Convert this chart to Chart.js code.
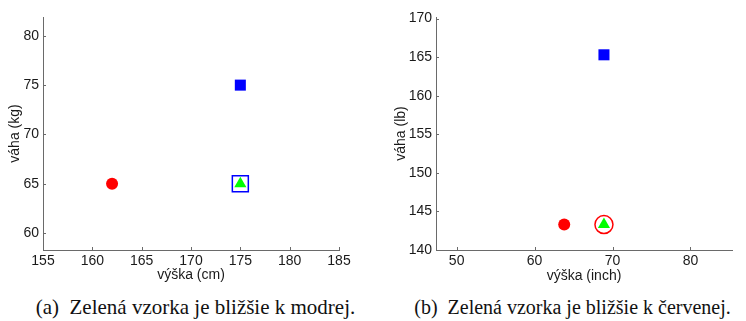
<!DOCTYPE html>
<html>
<head>
<meta charset="utf-8">
<script src="https://cdn.jsdelivr.net/npm/chart.js@4"></script>
<style>
  body { margin: 0; background: #fff; width: 746px; height: 321px; position: relative; overflow: hidden; }
  canvas { position: absolute; top: 0; }
  #chartA { left: 0; }
  #chartB { left: 373px; }
  .caption { position: absolute; top: 297px; font-family: 'Liberation Serif', 'DejaVu Serif', serif; font-size: 18px; line-height: 1; color: #111; white-space: pre; text-align: center; width: 373px; }
</style>
</head>
<body>
<canvas id="chartA" width="373" height="290"></canvas>
<canvas id="chartB" width="373" height="290"></canvas>
<div class="caption" id="capA" style="left: 9px;">(a)  Zelená vzorka je bližšie k modrej.</div>
<div class="caption" id="capB" style="left: 386px;">(b)  Zelená vzorka je bližšie k červenej.</div>
<script>
// hodnoty: červená, modrá, zelená vzorka
const heightCm = [162, 175, 175];
const weightKg = [65, 75, 65];
const heightInch = [63.8, 68.9, 68.9];
const weightLb = [143.3, 165.3, 143.3];

const cmTicks = [155, 160, 165, 170, 175, 180, 185];
const kgTicks = [60, 65, 70, 75, 80];
const inchTicks = [50, 60, 70, 80];
const lbTicks = [140, 145, 150, 155, 160, 165, 170];

const axisColor = '#6a6a6a';
const textColor = '#1a1a1a';

Chart.defaults.font.family = "'Liberation Sans', Arial, sans-serif";
Chart.defaults.font.size = 14;
Chart.defaults.color = textColor;

// MATLAB-style tick marks pointing into the plot
const inwardTicks = {
    id: 'inwardTicks',
    afterDatasetsDraw(chart) {
        const { ctx, chartArea, scales } = chart;
        ctx.save();
        ctx.strokeStyle = axisColor;
        ctx.lineWidth = 1;
        scales.x.ticks.forEach(t => {
            const px = Math.round(scales.x.getPixelForValue(t.value)) + 0.5;
            ctx.beginPath();
            ctx.moveTo(px, chartArea.bottom);
            ctx.lineTo(px, chartArea.bottom - 3);
            ctx.stroke();
        });
        scales.y.ticks.forEach(t => {
            const py = Math.round(scales.y.getPixelForValue(t.value)) + 0.5;
            ctx.beginPath();
            ctx.moveTo(chartArea.left, py);
            ctx.lineTo(chartArea.left + 3, py);
            ctx.stroke();
        });
        ctx.restore();
    }
};

function pts(xs, ys, idx) {
    return idx.map(i => ({ x: xs[i], y: ys[i] }));
}

function axis(title, min, max, tickList, size, titlePad, horizontal) {
    return {
        type: 'linear',
        min: min,
        max: max,
        afterBuildTicks: s => { s.ticks = tickList.map(v => ({ value: v })); },
        afterFit: s => { if (horizontal) s.height = size; else s.width = size; },
        grid: { display: true, drawOnChartArea: false, drawTicks: false },
        border: { display: true, color: axisColor, width: 1 },
        ticks: { padding: horizontal ? 3 : 4, color: textColor },
        title: {
            display: true,
            text: title,
            color: textColor,
            font: { size: 14 },
            padding: horizontal ? { top: 0, bottom: titlePad } : { top: titlePad, bottom: 0 }
        }
    };
}

function makeChart(id, xs, ys, ring, xAxis, yAxis, padRight) {
    return new Chart(document.getElementById(id).getContext('2d'), {
        type: 'scatter',
        data: {
            datasets: [
                { data: pts(xs, ys, [2]), pointStyle: 'triangle', pointRadius: 7, backgroundColor: '#00ff00', borderWidth: 0 },
                { data: pts(xs, ys, [2]), pointStyle: ring.style, pointRadius: ring.radius, backgroundColor: 'rgba(0,0,0,0)', borderColor: ring.color, borderWidth: 1.5 },
                { data: pts(xs, ys, [0]), pointStyle: 'circle', pointRadius: 6, backgroundColor: '#ff0000', borderWidth: 0 },
                { data: pts(xs, ys, [1]), pointStyle: 'rect', pointRadius: 7.8, backgroundColor: '#0000ff', borderWidth: 0 }
            ]
        },
        options: {
            responsive: false,
            animation: false,
            events: [],
            layout: { padding: { top: 17, right: padRight, left: 0, bottom: 0 } },
            plugins: { legend: { display: false }, tooltip: { enabled: false } },
            scales: { x: xAxis, y: yAxis }
        },
        plugins: [inwardTicks]
    });
}

makeChart('chartA', heightCm, weightKg,
    { style: 'rect', radius: 11.3, color: '#0000ff' },
    axis('výška (cm)', 155, 185, cmTicks, 40, 6.6, true),
    axis('váha (kg)', 58.3, 81.9, kgTicks, 43, 6.6, false),
    34);

makeChart('chartB', heightInch, weightLb,
    { style: 'circle', radius: 9, color: '#ff0000' },
    axis('výška (inch)', 47.35, 85.33, inchTicks, 40, 5.6, true),
    axis('váha (lb)', 140, 170.2, lbTicks, 63, 19.6, false),
    14);

// captions: scale the serif font so each line is about as wide as in the original
const mctx = document.createElement('canvas').getContext('2d');
mctx.font = "18px 'Liberation Serif'";
[['capA', 322], ['capB', 316]].forEach(([id, target]) => {
    const el = document.getElementById(id);
    const w = mctx.measureText(el.textContent).width;
    const size = Math.min(21, 18 * target / w);
    el.style.fontSize = size.toFixed(1) + 'px';
    el.style.top = (307 - size / 2) + 'px';
});
</script>
</body>
</html>
